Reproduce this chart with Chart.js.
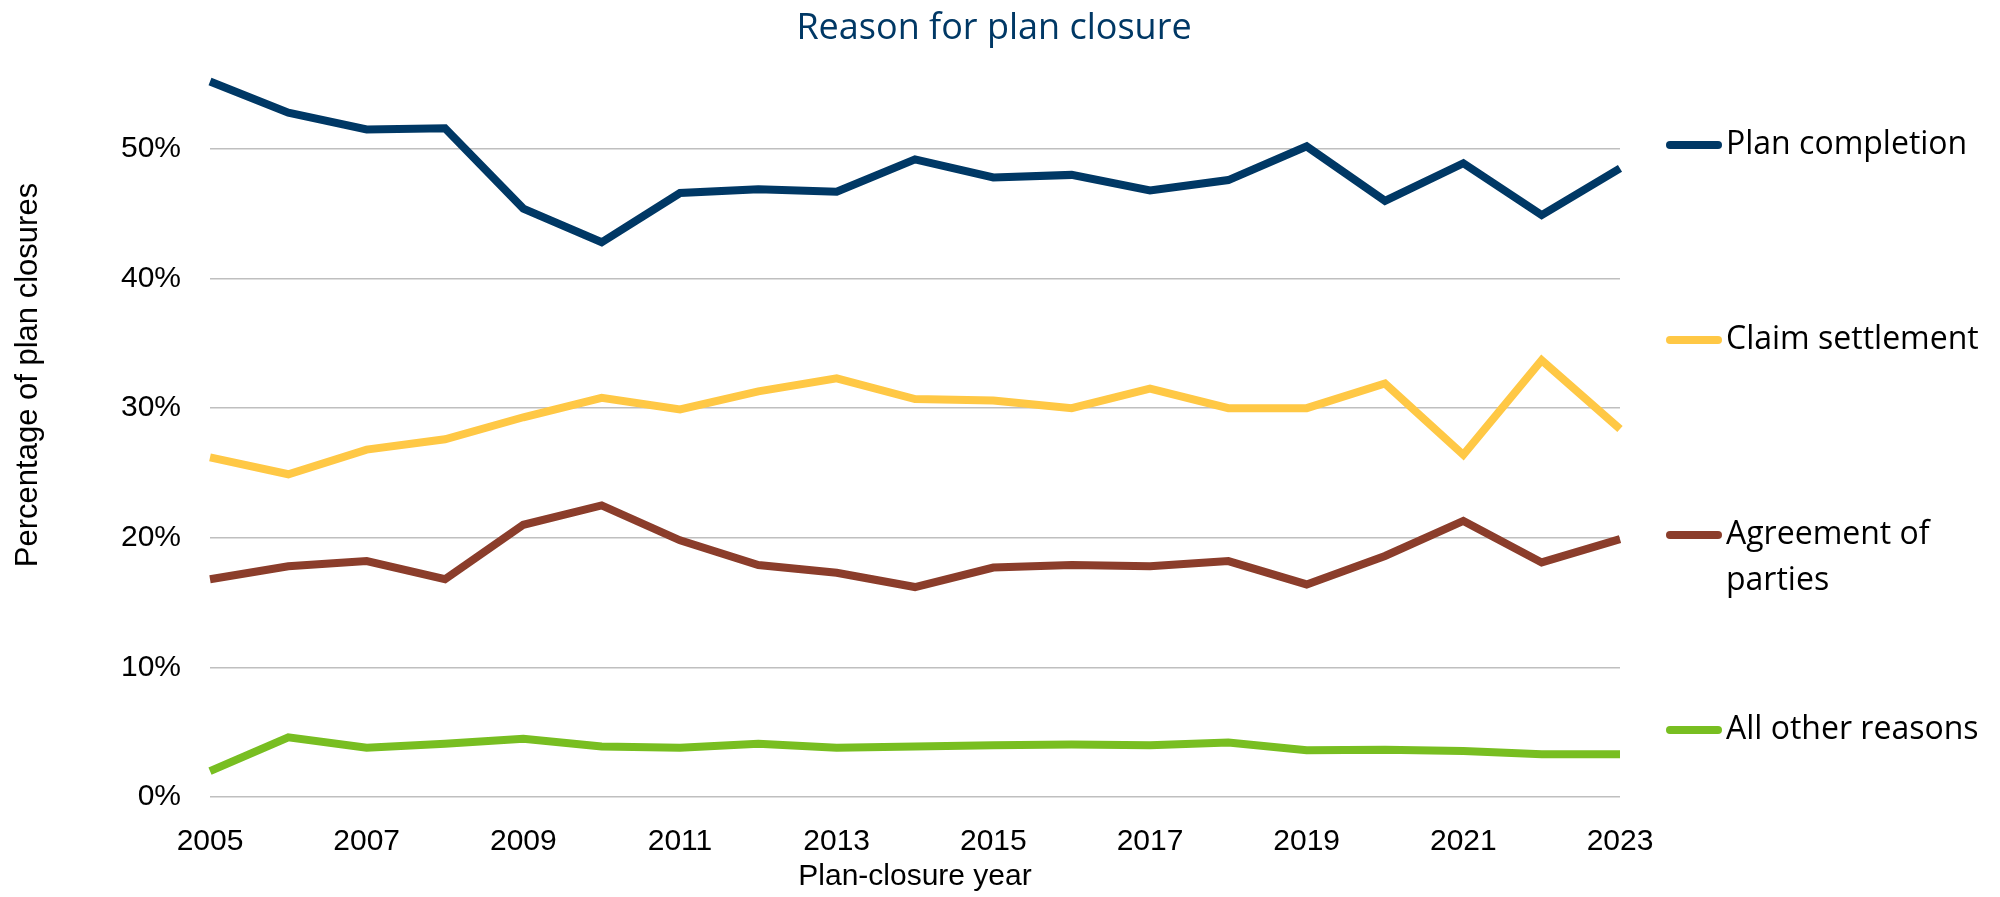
<!DOCTYPE html>
<html>
<head>
<meta charset="utf-8">
<title>Reason for plan closure</title>
<script src="https://cdn.jsdelivr.net/npm/chart.js@4.4.1/dist/chart.umd.min.js"></script>
<style>
  html, body { margin: 0; padding: 0; background: #fff; }
  canvas { display: block; }
</style>
</head>
<body>
<canvas id="closureChart" width="2000" height="897"></canvas>
<script>
const years = ['2005', '2006', '2007', '2008', '2009', '2010', '2011', '2012', '2013', '2014',
  '2015', '2016', '2017', '2018', '2019', '2020', '2021', '2022', '2023'];

const planCompletion = [55.2, 52.8, 51.5, 51.6, 45.4, 42.8, 46.6, 46.9, 46.7, 49.2,
  47.8, 48.0, 46.8, 47.6, 50.2, 46.0, 48.9, 44.9, 48.5];
const claimSettlement = [26.2, 24.9, 26.8, 27.6, 29.3, 30.8, 29.9, 31.3, 32.3, 30.7,
  30.6, 30.0, 31.5, 30.0, 30.0, 31.9, 26.4, 33.7, 28.4];
const agreementOfParties = [16.8, 17.8, 18.2, 16.8, 21.0, 22.5, 19.8, 17.9, 17.3, 16.2,
  17.7, 17.9, 17.8, 18.2, 16.4, 18.6, 21.3, 18.1, 19.9];
const allOtherReasons = [2.0, 4.6, 3.8, 4.1, 4.5, 3.9, 3.8, 4.1, 3.8, 3.9,
  4.0, 4.05, 4.0, 4.2, 3.6, 3.65, 3.55, 3.3, 3.3];

const seriesNames = ['Plan completion', 'Claim settlement', 'Agreement of parties', 'All other reasons'];
// how each name wraps in the legend
const legendLines = [['Plan completion'], ['Claim settlement'], ['Agreement of', 'parties'], ['All other reasons']];
const seriesColors = ['#003865', '#FFC845', '#8B3D2B', '#78BE21'];

const yTicks = [0, 10, 20, 30, 40, 50];
const yMax = 56;

const chartTitle = 'Reason for plan closure';
const yTitle = 'Percentage of plan closures';

Chart.defaults.font.family = '"Liberation Sans", Arial, sans-serif';
Chart.defaults.color = '#000';

// title, y title and right-hand legend are drawn here instead of by the built-in plugins
const sideLabels = {
  id: 'sideLabels',
  afterDraw(chart) {
    const ctx = chart.ctx;

    ctx.save();
    ctx.fillStyle = '#003865';
    ctx.font = '36px "Open Sans", sans-serif';
    ctx.textAlign = 'center';
    ctx.textBaseline = 'alphabetic';
    ctx.fillText(chartTitle, 994, 39);
    ctx.restore();

    ctx.save();
    ctx.fillStyle = '#000';
    ctx.font = '31px "Liberation Sans", Arial, sans-serif';
    ctx.textAlign = 'center';
    ctx.textBaseline = 'middle';
    ctx.translate(28, 375);
    ctx.rotate(-Math.PI / 2);
    ctx.fillText(yTitle, 0, 0);
    ctx.restore();

    const lineStart = chart.chartArea.right + 46;
    const textX = lineStart + 60;
    const firstRow = 145;
    const rowStep = 195;
    ctx.save();
    ctx.font = '32px "Open Sans", sans-serif';
    ctx.textAlign = 'left';
    ctx.textBaseline = 'middle';
    chart.data.datasets.forEach((ds, i) => {
      const y = firstRow + rowStep * i;
      ctx.strokeStyle = ds.borderColor;
      ctx.lineWidth = 8;
      ctx.lineCap = 'round';
      ctx.beginPath();
      ctx.moveTo(lineStart + 4, y);
      ctx.lineTo(lineStart + 52, y);
      ctx.stroke();
      ctx.fillStyle = '#000';
      legendLines[i].forEach((txt, j) => ctx.fillText(txt, textX, y + j * 46));
    });
    ctx.restore();
  }
};

const ctx = document.getElementById('closureChart').getContext('2d');
const chart = new Chart(ctx, {
  type: 'line',
  data: {
    labels: years,
    datasets: [planCompletion, claimSettlement, agreementOfParties, allOtherReasons].map((values, i) => ({
      label: seriesNames[i],
      data: values,
      borderColor: seriesColors[i],
      backgroundColor: seriesColors[i],
      borderWidth: 8,
      borderJoinStyle: 'miter',
      pointRadius: 0,
      tension: 0,
      fill: false
    }))
  },
  options: {
    responsive: false,
    devicePixelRatio: 1,
    animation: false,
    layout: { padding: { left: 0, right: 380, top: 71.2, bottom: 0 } },
    plugins: {
      legend: { display: false },
      tooltip: { enabled: false },
      title: { display: false }
    },
    scales: {
      x: {
        offset: false,
        grid: { display: false },
        border: { display: false },
        ticks: {
          autoSkip: false,
          maxRotation: 0,
          padding: 19,
          font: { size: 30 },
          callback: (value, index) => (index % 2 === 0 ? years[index] : '')
        },
        title: {
          display: true,
          text: 'Plan-closure year',
          font: { size: 30 },
          padding: { top: 0, bottom: 2 }
        },
        afterFit: (axis) => { axis.height = 100; }
      },
      y: {
        min: 0,
        max: yMax,
        border: { display: false },
        grid: { color: '#bfbfbf', lineWidth: 1.5, drawTicks: false },
        afterBuildTicks: (axis) => { axis.ticks = yTicks.map(v => ({ value: v })); },
        ticks: {
          padding: 29,
          font: { size: 30 },
          callback: (value) => value + '%'
        },
        afterFit: (axis) => { axis.width = 210; }
      }
    }
  },
  plugins: [sideLabels]
});
</script>
</body>
</html>
